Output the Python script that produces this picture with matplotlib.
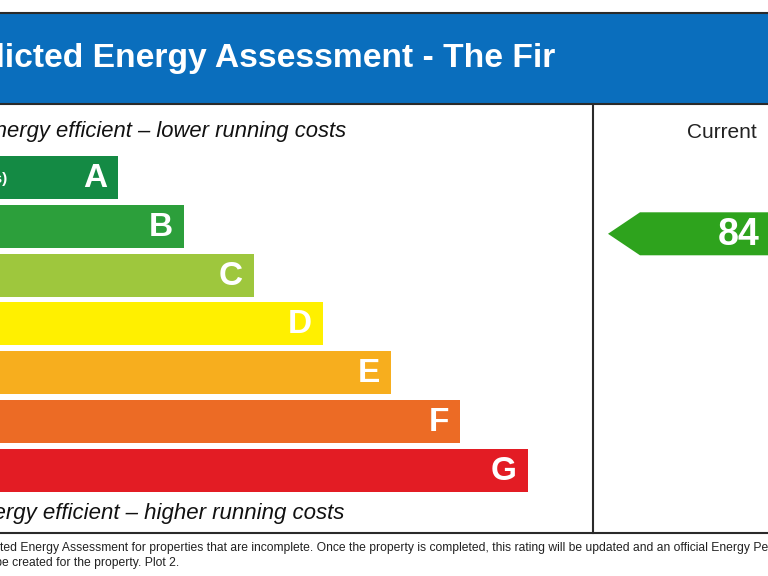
import matplotlib
matplotlib.use("Agg")
import matplotlib.pyplot as plt
from matplotlib.patches import Rectangle, Polygon

plt.rcParams['font.family'] = ['Liberation Sans', 'DejaVu Sans']

# rating bands, best to worst
bands = ['A', 'B', 'C', 'D', 'E', 'F', 'G']
band_ranges = ['(92 plus)', '(81-91)', '(69-80)', '(55-68)', '(39-54)', '(21-38)', '(1-20)']
band_colors = ['#148a44', '#2c9f3b', '#9ec73d', '#fff000', '#f7ae1e', '#ec6b25', '#e31c24']
# bar lengths as they appear on the chart (px units of the axes)
bar_ends = [118, 184, 254, 323, 391, 460, 528]

current_rating = 84
current_band = 'B'

title = 'Predicted Energy Assessment - The Fir'
top_note = 'Very energy efficient \u2013 lower running costs'
bottom_note = 'Not energy efficient \u2013 higher running costs'
footer_1 = ('This is a Predicted Energy Assessment for properties that are incomplete. Once the property '
            'is completed, this rating will be updated and an official Energy Performance')
footer_2 = 'Certificate will be created for the property. Plot 2.'

fig = plt.figure(figsize=(7.68, 5.76), dpi=100)
ax = fig.add_axes([0, 0, 1, 1])
ax.set_xlim(0, 768)
ax.set_ylim(576, 0)
ax.axis('off')
renderer = fig.canvas.get_renderer()


def text_width(s, **kw):
    t = ax.text(0, 0, s, **kw)
    w = t.get_window_extent(renderer).width
    t.remove()
    return w


line_col = '#2a2a2a'

# header
ax.add_patch(Rectangle((-10, 12.5), 800, 91, facecolor='#0a6ebd', edgecolor='none'))
ax.plot([-10, 790], [12.5, 12.5], color=line_col, lw=1.5)
ax.plot([-10, 790], [104, 104], color=line_col, lw=1.5)
ax.plot([-10, 790], [533, 533], color=line_col, lw=1.5)
ax.plot([592.5, 592.5], [104, 533], color=line_col, lw=1.5)
ax.text(555, 59, title, color='white', fontsize=24.2, fontweight='bold', ha='right', va='center')

# band bars
bar_h = 43
bar_top = 156
step = 48.8
for i, (b, rng, col, end) in enumerate(zip(bands, band_ranges, band_colors, bar_ends)):
    y = bar_top + i * step
    ax.barh(y + bar_h / 2, end + 100, left=-100, height=bar_h, color=col, edgecolor='none')
    ax.text(end - 11, y + bar_h / 2 + 1, b, color='white', fontsize=24, fontweight='bold',
            ha='right', va='center')
    ax.text(-56, y + bar_h / 2 + 2, rng, color='white', fontsize=11, fontweight='bold',
            ha='left', va='center')

ax.text(346, 131, top_note, fontsize=15.8, style='italic', color='#111111', ha='right', va='center')
ax.text(344, 513, bottom_note, fontsize=16, style='italic', color='#111111', ha='right', va='center')

# current rating arrow
ax.text(722, 132, 'Current', fontsize=15, color='#222222', ha='center', va='center')
idx = bands.index(current_band)
cy = bar_top + idx * step + bar_h / 2 + 7.5
half = 21.5
ax.add_patch(Polygon([(608, cy), (640, cy - half), (800, cy - half), (800, cy + half), (640, cy + half)],
                     closed=True, facecolor='#2ea31d', edgecolor='none'))
ax.text(739, cy + 1, str(current_rating), color='white', fontsize=27, fontweight='bold',
        ha='center', va='center')

# footer: size picked so the visible part of line 1 spans the width
visible = footer_1[footer_1.index('ted Energy'):footer_1.index('Pe') + 2]
foot_fs = 10 * 770 / text_width(visible, fontsize=10)
foot_kw = dict(fontsize=foot_fs, color='#222222')
x0 = -text_width('This is a Predic', **foot_kw)
ax.text(x0, 548, footer_1, ha='left', va='center', **foot_kw)
ax.text(x0, 563, footer_2, ha='left', va='center', **foot_kw)

fig.savefig('out.png', dpi=100)
